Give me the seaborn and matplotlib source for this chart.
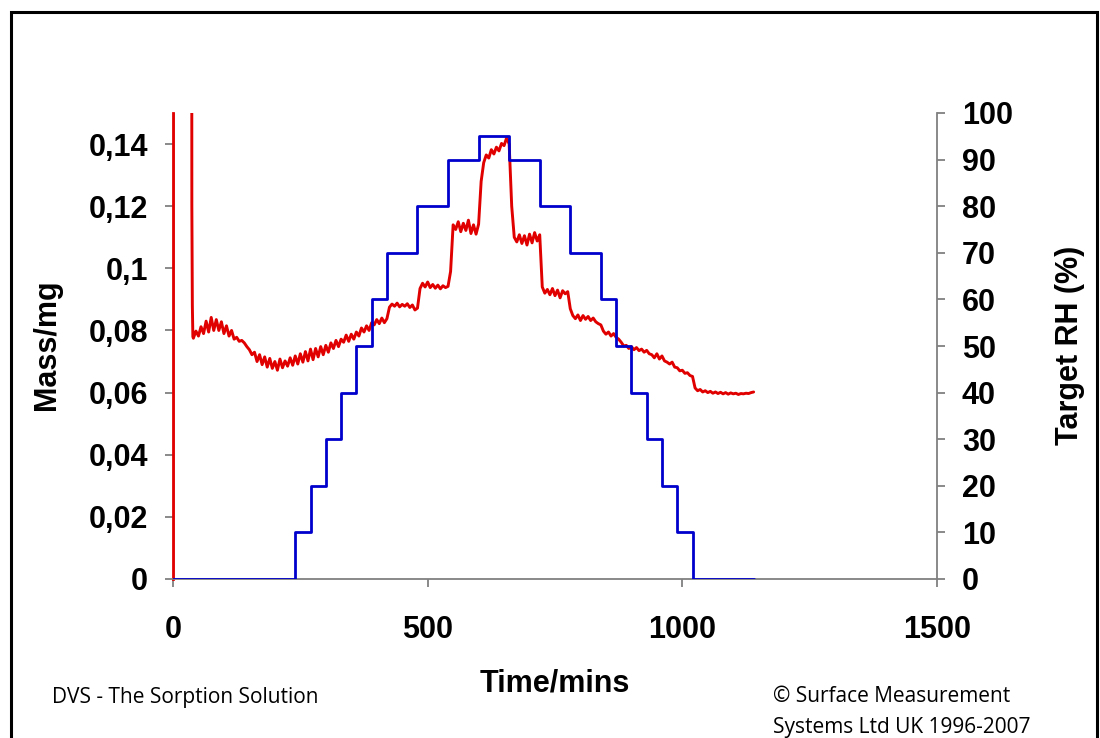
import matplotlib
matplotlib.use("Agg")
import matplotlib.pyplot as plt
from matplotlib.patches import Rectangle
import seaborn as sns
import pandas as pd

# ---------------- data ----------------
# Target RH step profile (value holds from the given time until the next one)
rh_time = [0, 240, 270, 300, 330, 360, 390, 420, 480, 540, 600, 660, 720, 780,
           840, 870, 900, 930, 960, 990, 1020, 1140]
rh_value = [0, 10, 20, 30, 40, 50, 60, 70, 80, 90, 95, 90, 80, 70,
            60, 50, 40, 30, 20, 10, 0, 0]

# Sample mass: initial off-scale spike, then readings every 5 min from 40 to 1140
spike_time = [0, 0.3, 36, 37, 38, 39]
spike_mass = [0.0, 0.5, 0.5, 0.12, 0.088, 0.078]

mass_time = list(range(40, 1141, 5))
mass_value = [
    0.0775, 0.0798, 0.0782, 0.0812, 0.0790, 0.0830, 0.0795, 0.0842, 0.0800, 0.0835,  # 40-85
    0.0800, 0.0828, 0.0790, 0.0815, 0.0782, 0.0800, 0.0772, 0.0778, 0.0765, 0.0768,  # 90-135
    0.0760, 0.0748, 0.0738, 0.0722, 0.0730, 0.0700, 0.0722, 0.0690, 0.0715, 0.0682,  # 140-185
    0.0710, 0.0678, 0.0700, 0.0672, 0.0708, 0.0680, 0.0702, 0.0685, 0.0712, 0.0688,  # 190-235
    0.0718, 0.0692, 0.0725, 0.0698, 0.0732, 0.0702, 0.0740, 0.0706, 0.0742, 0.0715,  # 240-285
    0.0748, 0.0722, 0.0752, 0.0730, 0.0760, 0.0742, 0.0768, 0.0748, 0.0772, 0.0762,  # 290-335
    0.0785, 0.0765, 0.0788, 0.0772, 0.0795, 0.0782, 0.0808, 0.0795, 0.0815, 0.0800,  # 340-385
    0.0825, 0.0818, 0.0835, 0.0822, 0.0840, 0.0825, 0.0838, 0.0875, 0.0885, 0.0878,  # 390-435
    0.0888, 0.0876, 0.0884, 0.0878, 0.0886, 0.0874, 0.0882, 0.0866, 0.0872, 0.0935,  # 440-485
    0.0952, 0.0940, 0.0956, 0.0938, 0.0948, 0.0936, 0.0946, 0.0934, 0.0944, 0.0938,  # 490-535
    0.0942, 0.0990, 0.1140, 0.1125, 0.1150, 0.1118, 0.1145, 0.1122, 0.1155, 0.1112,  # 540-585
    0.1140, 0.1110, 0.1142, 0.1280, 0.1340, 0.1365, 0.1355, 0.1382, 0.1368, 0.1390,  # 590-635
    0.1378, 0.1402, 0.1395, 0.1420, 0.1400, 0.1200, 0.1100, 0.1085, 0.1108, 0.1080,  # 640-685
    0.1105, 0.1075, 0.1110, 0.1082, 0.1115, 0.1088, 0.1108, 0.0940, 0.0920, 0.0932,  # 690-735
    0.0915, 0.0935, 0.0912, 0.0930, 0.0905, 0.0928, 0.0918, 0.0925, 0.0870, 0.0848,  # 740-785
    0.0838, 0.0850, 0.0832, 0.0848, 0.0836, 0.0845, 0.0832, 0.0840, 0.0828, 0.0822,  # 790-835
    0.0818, 0.0798, 0.0788, 0.0795, 0.0782, 0.0790, 0.0778, 0.0772, 0.0762, 0.0750,  # 840-885
    0.0752, 0.0742, 0.0748, 0.0738, 0.0745, 0.0735, 0.0740, 0.0730, 0.0736, 0.0725,  # 890-935
    0.0722, 0.0712, 0.0725, 0.0708, 0.0718, 0.0702, 0.0698, 0.0692, 0.0698, 0.0682,  # 940-985
    0.0680, 0.0670, 0.0672, 0.0662, 0.0664, 0.0655, 0.0652, 0.0615, 0.0606, 0.0610,  # 990-1035
    0.0602, 0.0606, 0.0600, 0.0604, 0.0598, 0.0602, 0.0597, 0.0601, 0.0596, 0.0600,  # 1040-1085
    0.0595, 0.0599, 0.0596, 0.0598, 0.0594, 0.0597, 0.0596, 0.0598, 0.0597, 0.0600,  # 1090-1135
    0.0602,                                                                          # 1140
]

mass_ticks = [0, 0.02, 0.04, 0.06, 0.08, 0.10, 0.12, 0.14]
mass_tick_labels = ["0", "0,02", "0,04", "0,06", "0,08", "0,1", "0,12", "0,14"]
rh_ticks = [0, 10, 20, 30, 40, 50, 60, 70, 80, 90, 100]
time_ticks = [0, 500, 1000, 1500]

# ---------------- plot ----------------
sns.set_style("white")
plt.rcParams["font.family"] = ["Liberation Sans", "DejaVu Sans"]
plt.rcParams["text.color"] = "black"
plt.rcParams["xtick.labelcolor"] = "black"
plt.rcParams["ytick.labelcolor"] = "black"

W, H = 1100, 738
fig = plt.figure(figsize=(W / 100, H / 100), dpi=100)
ax = fig.add_axes([173 / W, 1 - 579 / H, (937 - 173) / W, (579 - 113) / H])

mass_df = pd.DataFrame({"time": spike_time + mass_time,
                        "mass": spike_mass + mass_value})
rh_df = pd.DataFrame({"time": rh_time, "rh": rh_value})

red = "#E00000"
blue = "#0000CC"
grey = "#808080"

sns.lineplot(data=mass_df, x="time", y="mass", ax=ax, color=red,
             linewidth=2.1, sort=False, estimator=None)
ax.set_xlim(0, 1500)
ax.set_ylim(0, 0.15)

ax2 = ax.twinx()
sns.lineplot(data=rh_df, x="time", y="rh", ax=ax2, color=blue,
             linewidth=2.0, drawstyle="steps-post", sort=False, estimator=None)
ax2.set_ylim(0, 100)
ax2.set_xlim(0, 1500)

for a in (ax, ax2):
    a.spines["top"].set_visible(False)
    for s in ("left", "right", "bottom"):
        a.spines[s].set_color(grey)
        a.spines[s].set_linewidth(1.3)
    a.grid(False)

ax.spines["right"].set_visible(False)
ax.spines["left"].set_color(red)
ax.spines["left"].set_linewidth(2.0)
ax2.spines["left"].set_visible(False)
ax2.spines["bottom"].set_visible(False)

tick_font = dict(fontsize=22, fontweight="bold", color="black")
ax.set_xticks(time_ticks)
ax.set_xticklabels([str(t) for t in time_ticks], **tick_font)
ax.set_yticks(mass_ticks)
ax.set_yticklabels(mass_tick_labels, **tick_font)
ax2.set_yticks(rh_ticks)
ax2.set_yticklabels([str(v) for v in rh_ticks], **tick_font)

ax.tick_params(axis="x", direction="out", length=6, width=1.3, color=grey,
               pad=20, bottom=True)
ax.tick_params(axis="y", direction="out", length=6, width=1.3, color=grey,
               pad=12, left=True)
ax2.tick_params(axis="y", direction="out", length=6, width=1.3, color=grey,
                pad=12, right=True)

ax.set_xlabel("")
ax.set_ylabel("")
ax2.set_ylabel("")

fig.text(555 / W, 1 - 683 / H, "Time/mins", ha="center", va="center",
         fontsize=22, fontweight="bold", color="black")
fig.text(47 / W, 1 - 345 / H, "Mass/mg", ha="center", va="center",
         rotation=90, fontsize=22, fontweight="bold", color="black")
fig.text(1070 / W, 1 - 345 / H, "Target RH (%)", ha="center", va="center",
         rotation=90, fontsize=22, fontweight="bold", color="black")

foot = dict(fontsize=15, family=["Open Sans", "DejaVu Sans"], va="center",
            ha="left", color="black")
fig.text(52 / W, 1 - 697 / H, "DVS - The Sorption Solution", **foot)
fig.text(773 / W, 1 - 697 / H, "\u00a9 Surface Measurement", **foot)
fig.text(773 / W, 1 - 727 / H, "Systems Ltd UK 1996-2007", **foot)

fig.patches.append(Rectangle((11 / W, -0.05), (1097 - 11) / W, 1.05 - 12 / H,
                             transform=fig.transFigure, fill=False,
                             edgecolor="black", linewidth=2.2))

fig.savefig("out.png", dpi=100)
